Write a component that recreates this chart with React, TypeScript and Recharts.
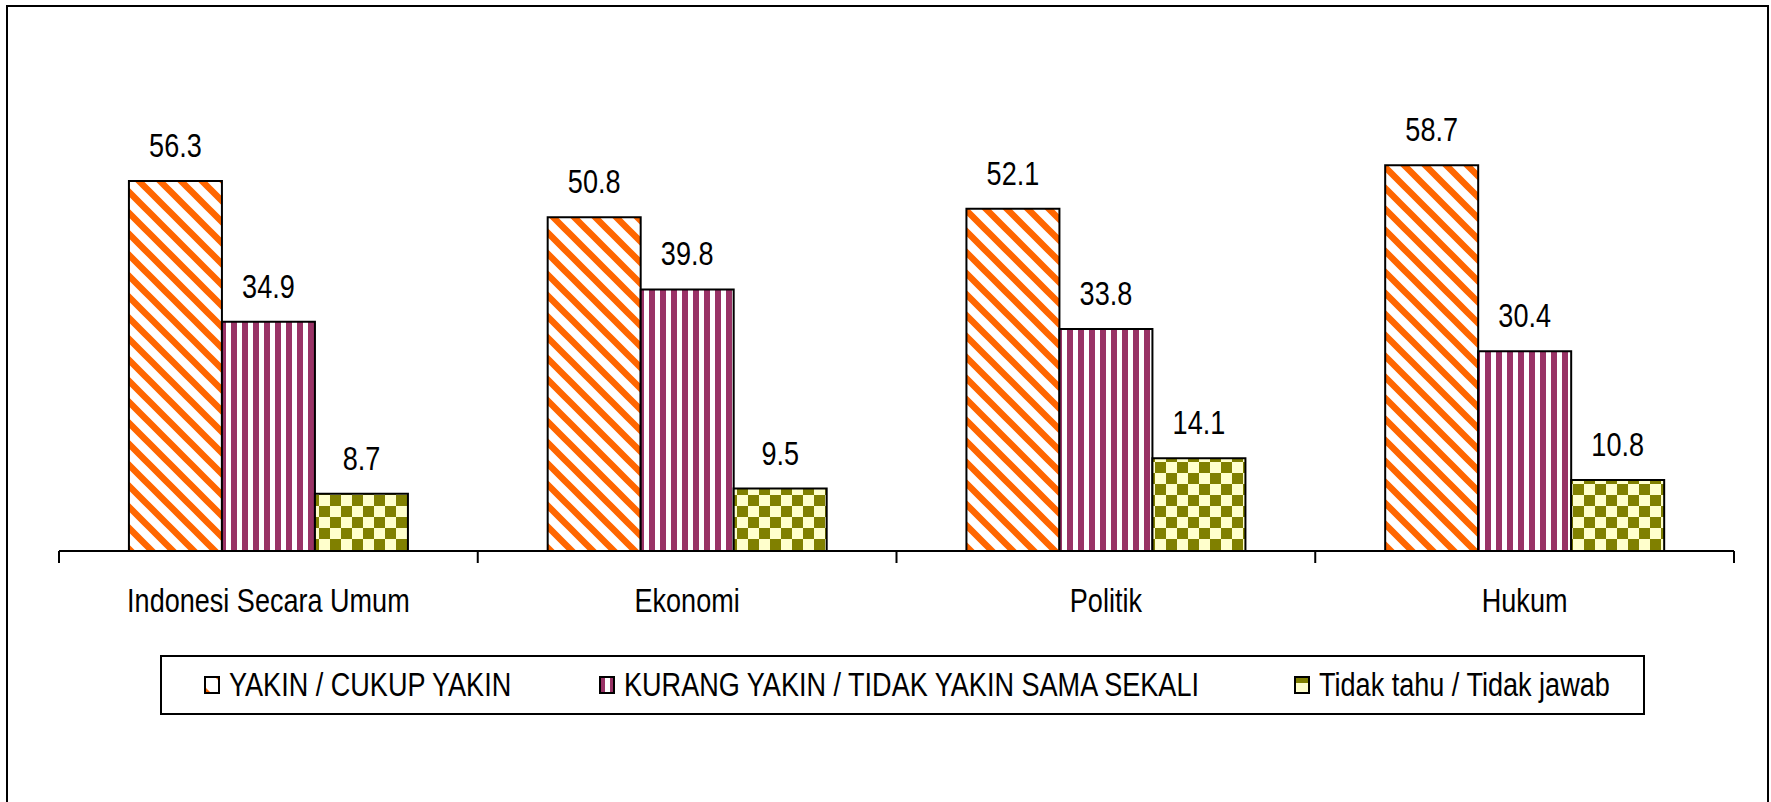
import { BarChart, Bar, XAxis, YAxis, LabelList } from 'recharts';

const categories = ['Indonesi Secara Umum', 'Ekonomi', 'Politik', 'Hukum'];
const yakin = [56.3, 50.8, 52.1, 58.7];
const kurangYakin = [34.9, 39.8, 33.8, 30.4];
const tidakTahu = [8.7, 9.5, 14.1, 10.8];
const seriesNames = [
  'YAKIN / CUKUP YAKIN',
  'KURANG YAKIN / TIDAK YAKIN SAMA SEKALI',
  'Tidak tahu / Tidak jawab',
];

const data = categories.map((name, i) => ({
  name,
  yakin: yakin[i],
  kurang: kurangYakin[i],
  tidak: tidakTahu[i],
}));

const FONT = '"Liberation Sans", Arial, sans-serif';
const FONT_SIZE = 33;
const NARROW = 0.82; // no narrow font installed, squeeze it

const CHART_W = 1771;
const CHART_H = 802;
const MARGIN = { top: 91, right: 37, bottom: 191, left: 59 };
const bandWidth = (CHART_W - MARGIN.left - MARGIN.right) / categories.length;

// label in the middle of the band, tick marks at the band edges
const CategoryTick = ({ x, y, payload, index }: any) => {
  const left = x - bandWidth / 2;
  const right = x + bandWidth / 2;
  return (
    <g>
      <line x1={left} y1={y} x2={left} y2={y + 12} stroke="#000" strokeWidth={2} />
      {index === categories.length - 1 && (
        <line x1={right} y1={y} x2={right} y2={y + 12} stroke="#000" strokeWidth={2} />
      )}
      <text
        transform={`translate(${x},${y + 61}) scale(${NARROW},1)`}
        textAnchor="middle"
        fontFamily={FONT}
        fontSize={FONT_SIZE}
        fill="#000"
      >
        {payload.value}
      </text>
    </g>
  );
};

const BarLabel = ({ x, y, width, value }: any) => (
  <text
    transform={`translate(${x + width / 2},${y - 24}) scale(${NARROW},1)`}
    textAnchor="middle"
    fontFamily={FONT}
    fontSize={FONT_SIZE}
    fill="#000"
  >
    {value}
  </text>
);

const LegendIcon = ({ idx }: { idx: number }) => (
  <svg width={16} height={18} style={{ display: 'block', flex: 'none' }}>
    {idx === 0 && (
      <>
        <rect x={1} y={1} width={14} height={16} fill="#fff" />
        <polygon points="1,11 1,17 7,17" fill="#FF6600" />
        <polygon points="11,1 15,1 15,5" fill="#FF6600" />
      </>
    )}
    {idx === 1 && (
      <>
        <rect x={1} y={1} width={14} height={16} fill="#993366" />
        <rect x={6} y={1} width={5} height={16} fill="#fff" />
      </>
    )}
    {idx === 2 && (
      <>
        <rect x={1} y={1} width={14} height={16} fill="#FFFFCC" />
        <rect x={1} y={1} width={14} height={6} fill="#808000" />
      </>
    )}
    <rect x={1} y={1} width={14} height={16} fill="none" stroke="#000" strokeWidth={2} />
  </svg>
);

const legendLeft = 160;
const legendItemX = [204, 599, 1294];

const App = () => {
  return (
    <div style={{ position: 'fixed', left: 0, top: 0, width: CHART_W, height: CHART_H, background: '#fff', overflow: 'hidden' }}>
      <div
        style={{
          position: 'absolute',
          left: 6,
          top: 5,
          width: 1763,
          height: 820,
          border: '2px solid #000',
          boxSizing: 'border-box',
        }}
      />
      <div style={{ position: 'absolute', left: 0, top: 0 }}>
        <BarChart
          width={CHART_W}
          height={CHART_H}
          data={data}
          margin={MARGIN}
          barCategoryGap="16.7%"
          barGap={0}
        >
          <defs>
            <pattern id="pDiag" patternUnits="userSpaceOnUse" width={21} height={21}>
              <rect width={21} height={21} fill="#fff" />
              <path
                d="M-5,-5 L26,26 M-5,16 L5,26 M16,-5 L26,5"
                stroke="#FF6600"
                strokeWidth={6.5}
              />
            </pattern>
            <pattern id="pVert" patternUnits="userSpaceOnUse" width={11} height={11}>
              <rect width={11} height={11} fill="#fff" />
              <rect x={0} width={6} height={11} fill="#993366" />
            </pattern>
            <pattern id="pCheck" patternUnits="userSpaceOnUse" width={22} height={22}>
              <rect width={22} height={22} fill="#FFFFCC" />
              <rect x={11} y={0} width={11} height={11} fill="#808000" />
              <rect x={0} y={11} width={11} height={11} fill="#808000" />
            </pattern>
          </defs>
          <XAxis
            dataKey="name"
            interval={0}
            height={60}
            tickSize={0}
            tickMargin={0}
            tickLine={false}
            axisLine={{ stroke: '#000', strokeWidth: 2 }}
            tick={<CategoryTick />}
          />
          <YAxis hide domain={[0, 70]} />
          <Bar dataKey="yakin" name={seriesNames[0]} fill="url(#pDiag)" stroke="#000" strokeWidth={2} isAnimationActive={false}>
            <LabelList dataKey="yakin" content={<BarLabel />} />
          </Bar>
          <Bar dataKey="kurang" name={seriesNames[1]} fill="url(#pVert)" stroke="#000" strokeWidth={2} isAnimationActive={false}>
            <LabelList dataKey="kurang" content={<BarLabel />} />
          </Bar>
          <Bar dataKey="tidak" name={seriesNames[2]} fill="url(#pCheck)" stroke="#000" strokeWidth={2} isAnimationActive={false}>
            <LabelList dataKey="tidak" content={<BarLabel />} />
          </Bar>
        </BarChart>
      </div>
      <div
        style={{
          position: 'absolute',
          left: legendLeft,
          top: 655,
          width: 1485,
          height: 60,
          border: '2px solid #000',
          boxSizing: 'border-box',
          fontFamily: FONT,
          fontSize: FONT_SIZE,
          color: '#000',
        }}
      >
        {seriesNames.map((s, i) => (
          <div
            key={s}
            style={{
              position: 'absolute',
              left: legendItemX[i] - legendLeft - 2,
              top: 0,
              height: 56,
              display: 'flex',
              alignItems: 'center',
            }}
          >
            <LegendIcon idx={i} />
            <span
              style={{
                display: 'inline-block',
                marginLeft: 9,
                whiteSpace: 'nowrap',
                transform: `scaleX(${NARROW})`,
                transformOrigin: 'left center',
              }}
            >
              {s}
            </span>
          </div>
        ))}
      </div>
    </div>
  );
};

export default App;
